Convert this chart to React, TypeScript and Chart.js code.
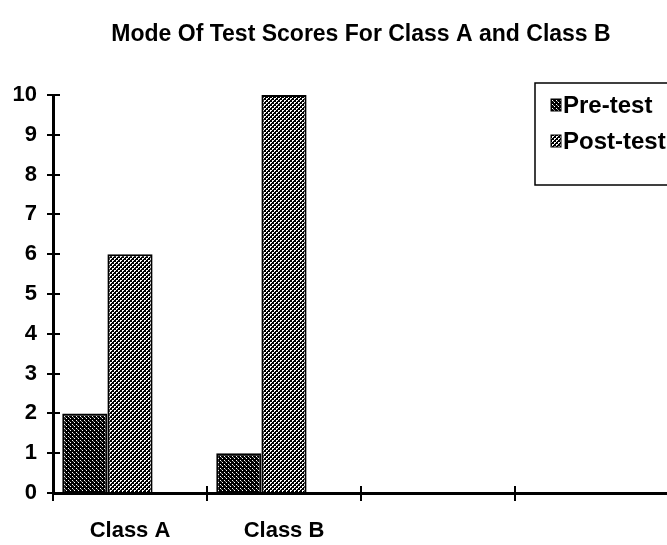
import React, { useEffect, useRef } from "react";
import { Chart, registerables } from "chart.js";

Chart.register(...registerables);

const titleText = "Mode Of Test Scores For Class A and Class B";
const categories = ["Class A", "Class B", "", ""];
const preTest = [2, 1, null, null];
const postTest = [6, 10, null, null];
const spacer = [null, null, null, null];
const seriesNames = ["Pre-test", "Post-test"];
const yMin = 0;
const yMax = 10;

const FONT = "'Liberation Sans', Arial, Helvetica, sans-serif";

function makePattern(whites: number[][], grays: number[][]): CanvasPattern | string {
  const c = document.createElement("canvas");
  c.width = 4;
  c.height = 4;
  const ctx = c.getContext("2d");
  if (!ctx) return "#555";
  ctx.fillStyle = "#000";
  ctx.fillRect(0, 0, 4, 4);
  ctx.fillStyle = "#fff";
  whites.forEach(([x, y]) => ctx.fillRect(x, y, 1, 1));
  ctx.fillStyle = "#888";
  grays.forEach(([x, y]) => ctx.fillRect(x, y, 1, 1));
  const p = ctx.createPattern(c, "repeat");
  return p || "#555";
}

export default function App() {
  const ref = useRef<HTMLCanvasElement | null>(null);

  useEffect(() => {
    const canvas = ref.current;
    if (!canvas) return;
    const prePat = makePattern([[0, 0], [2, 2]], [[1, 1]]);
    const postPat = makePattern(
      [[0, 0], [1, 0], [0, 1], [2, 2], [3, 2], [2, 3]],
      []
    );
    const patterns = [prePat, postPat];

    const crossTicks = {
      id: "crossTicks",
      afterDraw(chart: any) {
        const { ctx, chartArea } = chart;
        const xs = chart.scales.x;
        const ys = chart.scales.y;
        ctx.save();
        ctx.strokeStyle = "#000";
        ctx.lineWidth = 2;
        for (let v = yMin; v <= yMax; v++) {
          const py = Math.round(ys.getPixelForValue(v));
          ctx.beginPath();
          ctx.moveTo(chartArea.left, py);
          ctx.lineTo(chartArea.left + 7, py);
          ctx.stroke();
        }
        const n = categories.length;
        for (let i = 0; i <= n; i++) {
          const px = Math.round(xs.left + (i * xs.width) / n);
          ctx.beginPath();
          ctx.moveTo(px, chartArea.bottom);
          ctx.lineTo(px, chartArea.bottom - 7);
          ctx.stroke();
        }
        ctx.restore();
      },
    };

    const centeredTitle = {
      id: "centeredTitle",
      afterDraw(chart: any) {
        const { ctx, chartArea } = chart;
        ctx.save();
        ctx.font = `bold 23px ${FONT}`;
        ctx.textAlign = "center";
        ctx.textBaseline = "middle";
        ctx.fillStyle = "#000";
        ctx.fillText(titleText, (chartArea.left + chartArea.right) / 2, 35);
        ctx.restore();
      },
    };

    const boxLegend = {
      id: "boxLegend",
      afterDraw(chart: any) {
        const { ctx, chartArea } = chart;
        const left = chartArea.right - 134;
        const top = chartArea.top - 12;
        ctx.save();
        ctx.strokeStyle = "#000";
        ctx.lineWidth = 1.5;
        ctx.strokeRect(left, top, 170, 102);
        ctx.font = `bold 24px ${FONT}`;
        ctx.textBaseline = "middle";
        seriesNames.forEach((name, i) => {
          const cy = top + 22 + i * 36;
          ctx.fillStyle = patterns[i] as any;
          ctx.fillRect(left + 16, cy - 6, 10, 12);
          ctx.strokeStyle = "#000";
          ctx.lineWidth = 1;
          ctx.strokeRect(left + 16, cy - 6, 10, 12);
          ctx.fillStyle = "#000";
          ctx.fillText(name, left + 28, cy + 1);
        });
        ctx.restore();
      },
    };

    const chart = new Chart(canvas, {
      type: "bar",
      data: {
        labels: categories,
        datasets: [
          {
            label: seriesNames[0],
            data: preTest,
            backgroundColor: prePat as any,
            borderColor: "#000",
            borderWidth: 2,
          },
          {
            label: seriesNames[1],
            data: postTest,
            backgroundColor: postPat as any,
            borderColor: "#000",
            borderWidth: 2,
          },
          {
            label: "",
            data: spacer,
            backgroundColor: "rgba(0,0,0,0)",
          },
        ],
      },
      options: {
        responsive: false,
        animation: false,
        layout: { padding: { left: 0, right: 0, top: 95, bottom: 0 } },
        datasets: {
          bar: { barPercentage: 1, categoryPercentage: 0.88 },
        },
        plugins: {
          legend: { display: false },
          tooltip: { enabled: false },
          title: { display: false },
        },
        scales: {
          x: {
            type: "category",
            offset: true,
            grid: {
              offset: true,
              drawOnChartArea: false,
              color: "#000",
              lineWidth: 2,
              tickLength: 8,
            },
            border: { display: true, color: "#000", width: 3 },
            ticks: {
              color: "#000",
              font: { family: FONT, size: 22, weight: "bold" },
              padding: 17,
              maxRotation: 0,
              autoSkip: false,
            },
            afterFit(scale: any) {
              scale.height = 52;
            },
          },
          y: {
            min: yMin,
            max: yMax,
            grid: {
              drawOnChartArea: false,
              color: "#000",
              lineWidth: 2,
              tickLength: 6,
            },
            border: { display: true, color: "#000", width: 3 },
            ticks: {
              stepSize: 1,
              color: "#000",
              font: { family: FONT, size: 22, weight: "bold" },
              padding: 10,
            },
            afterFit(scale: any) {
              scale.width = 53;
            },
          },
        },
      },
      plugins: [crossTicks, boxLegend, centeredTitle],
    });
    return () => chart.destroy();
  }, []);

  return (
    <div
      style={{
        position: "absolute",
        left: 0,
        top: 0,
        width: 667,
        height: 545,
        overflow: "hidden",
        background: "#fff",
      }}
    >
      <canvas
        ref={ref}
        width={669}
        height={545}
        style={{ display: "block", background: "#fff" }}
      />
    </div>
  );
}
